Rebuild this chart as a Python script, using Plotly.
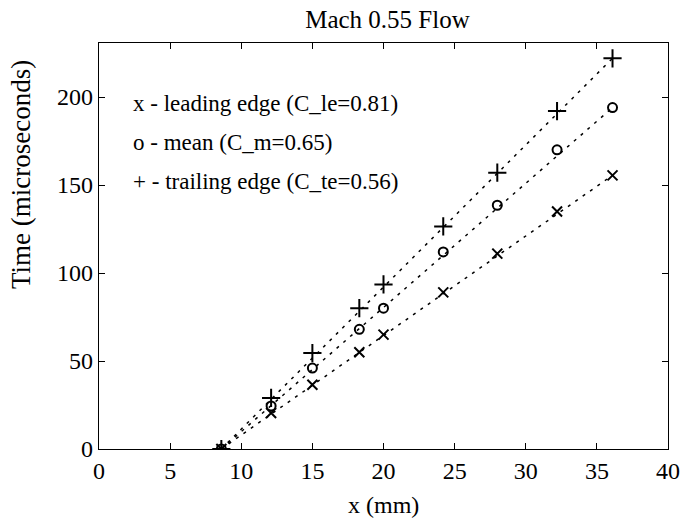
import numpy as np
import plotly.graph_objects as go

# Data
x_mm = [8.6, 12.1, 15.0, 18.3, 20.0, 24.2, 28.0, 32.2, 36.1]
t_leading = [0, 20.5, 36.5, 55, 65, 89, 111, 135, 155.5]
t_mean = [0, 24.5, 46, 68, 80, 112, 138.5, 170, 194]
t_trailing = [0, 29, 54.5, 80, 93.5, 126.5, 157, 192, 222]

legend_lines = [
    "x - leading edge (C_le=0.81)",
    "o - mean (C_m=0.65)",
    "+ - trailing edge (C_te=0.56)",
]
x_ticks = [0, 5, 10, 15, 20, 25, 30, 35, 40]
y_ticks = [0, 50, 100, 150, 200]

FONT = "Liberation Serif"

fig = go.Figure()

series = [
    (t_leading, "x-thin-open", 10),
    (t_mean, "circle-open", 9),
    (t_trailing, "cross-thin-open", 13),
]
for ys, sym, size in series:
    # dotted line from first to last point
    fig.add_trace(go.Scatter(
        x=[x_mm[0], x_mm[-1]], y=[ys[0], ys[-1]], mode="lines",
        line=dict(color="black", width=1.5, dash="3px,6px"),
        showlegend=False, hoverinfo="skip"))
    fig.add_trace(go.Scatter(
        x=x_mm, y=ys, mode="markers",
        marker=dict(symbol=sym, size=size, color="black",
                    line=dict(color="black", width=2)),
        showlegend=False))

for i, txt in enumerate(legend_lines):
    fig.add_annotation(
        x=0.056, xref="paper", y=0.852 - i * 0.096, yref="paper",
        text=txt, showarrow=False, xanchor="left", yanchor="middle",
        font=dict(family=FONT, size=23, color="black"))

# axis titles placed as in the reference
fig.add_annotation(
    x=-0.137, xref="paper", y=0.675, yref="paper",
    text="Time (microseconds)", textangle=-90, showarrow=False,
    xanchor="center", yanchor="middle",
    font=dict(family=FONT, size=27, color="black"))
fig.add_annotation(
    x=0.5, xref="paper", y=-0.137, yref="paper",
    text="x (mm)", showarrow=False, xanchor="center", yanchor="middle",
    font=dict(family=FONT, size=24, color="black"))

axis_common = dict(
    showline=True, linecolor="black", linewidth=1.3, mirror="ticks",
    ticks="inside", ticklen=6, tickcolor="black", showgrid=False,
    zeroline=False, tickfont=dict(family=FONT, size=24, color="black"),
    ticklabeloverflow="allow", automargin=False,
)

fig.update_layout(
    width=680, height=519,
    margin=dict(l=99, r=12, t=43, b=70),
    paper_bgcolor="white", plot_bgcolor="white",
    title=dict(text="Mach 0.55 Flow", xref="paper", x=0.507, xanchor="center",
               yref="container", y=0.963, yanchor="middle",
               font=dict(family=FONT, size=25, color="black")),
    xaxis=dict(range=[0, 40], tickvals=x_ticks, **axis_common),
    yaxis=dict(range=[0, 230.7], tickvals=y_ticks, **axis_common),
)

fig.write_html("out.html")
